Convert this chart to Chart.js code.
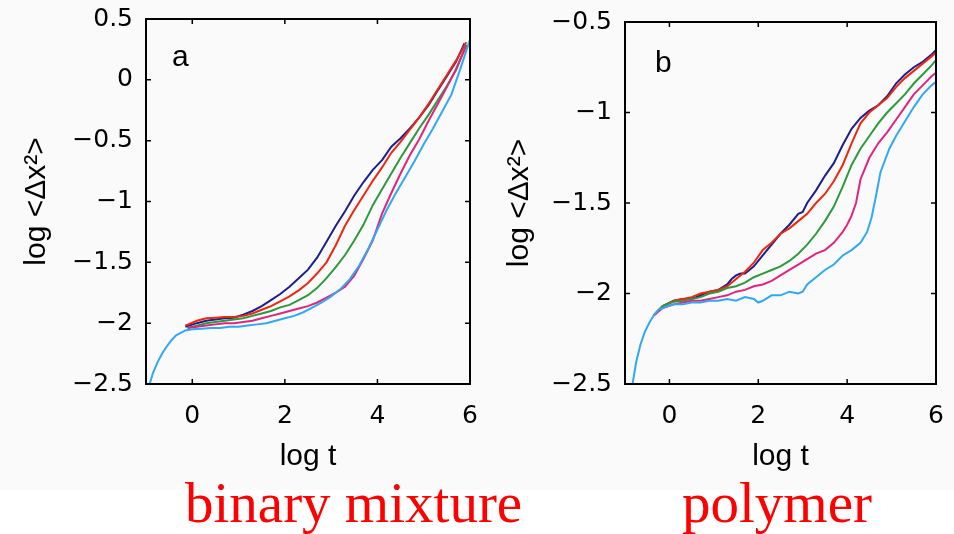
<!DOCTYPE html>
<html lang="en">
<head>
<meta charset="UTF-8">
<title>Mean square displacement: binary mixture vs polymer</title>
<script src="https://cdn.jsdelivr.net/npm/chart.js"></script>
<style>
  body { margin: 0; background: #fff; }
  #page { position: relative; width: 954px; height: 534px; overflow: hidden; background: #fff; }
  #figBg { position: absolute; left: 0; top: 0; width: 954px; height: 490px; background: #fafafa; }
  canvas { position: absolute; top: 0; }
  #chartA { left: 0; }
  #chartB { left: 480px; }
  .caption {
    position: absolute; top: 474px;
    font-family: "Liberation Serif", "Times New Roman", serif;
    font-size: 57px; line-height: 57px; color: #ff0000; white-space: nowrap;
  }
</style>
</head>
<body>
<div id="page">
  <div id="figBg"></div>
  <canvas id="chartA" width="480" height="490"></canvas>
  <canvas id="chartB" width="474" height="490"></canvas>
  <div class="caption" style="left:185px">binary mixture</div>
  <div class="caption" style="left:682px">polymer</div>
</div>

<script>
// tick labels
const xTicks = [0, 2, 4, 6];
const yTicksA = [0.5, 0, -0.5, -1, -1.5, -2, -2.5];
const yTicksB = [-0.5, -1, -1.5, -2, -2.5];

// panel a : binary mixture (log t, log <dx^2>)
const aNavyX = [-0.15, 0.1, 0.3, 0.5, 0.7, 0.9, 1.1, 1.3, 1.5, 1.7, 1.9, 2.1, 2.3, 2.5, 2.7, 2.9, 3.1, 3.3, 3.5, 3.7, 3.9, 4.1, 4.3, 4.5, 4.7, 4.9, 5.1, 5.3, 5.5, 5.7, 5.88];
const aNavyY = [-2.03, -2.0, -1.98, -1.97, -1.96, -1.955, -1.93, -1.9, -1.86, -1.81, -1.76, -1.7, -1.63, -1.56, -1.46, -1.33, -1.2, -1.08, -0.95, -0.84, -0.74, -0.66, -0.55, -0.48, -0.4, -0.31, -0.21, -0.09, 0.03, 0.15, 0.3];
const aRedX = [-0.15, 0.1, 0.3, 0.5, 0.7, 0.9, 1.1, 1.3, 1.5, 1.7, 1.9, 2.1, 2.3, 2.5, 2.7, 2.9, 3.1, 3.3, 3.5, 3.7, 3.9, 4.1, 4.3, 4.5, 4.7, 4.9, 5.1, 5.3, 5.5, 5.7, 5.92];
const aRedY = [-2.02, -1.98, -1.96, -1.955, -1.95, -1.95, -1.94, -1.92, -1.89, -1.86, -1.82, -1.78, -1.73, -1.67, -1.59, -1.5, -1.36, -1.2, -1.07, -0.95, -0.83, -0.72, -0.6, -0.51, -0.41, -0.31, -0.2, -0.08, 0.04, 0.16, 0.31];
const aGreenX = [-0.1, 0.1, 0.3, 0.5, 0.7, 0.9, 1.1, 1.3, 1.5, 1.7, 1.9, 2.1, 2.3, 2.5, 2.7, 2.9, 3.1, 3.3, 3.5, 3.7, 3.9, 4.1, 4.3, 4.5, 4.7, 4.9, 5.1, 5.3, 5.5, 5.7, 5.92];
const aGreenY = [-2.04, -2.02, -2.0, -1.99, -1.98, -1.97, -1.96, -1.94, -1.92, -1.9, -1.87, -1.85, -1.81, -1.77, -1.71, -1.63, -1.54, -1.44, -1.32, -1.19, -1.03, -0.9, -0.77, -0.64, -0.52, -0.4, -0.29, -0.17, -0.05, 0.08, 0.29];
const aMagX = [-0.1, 0.1, 0.3, 0.5, 0.7, 0.9, 1.1, 1.3, 1.5, 1.7, 1.9, 2.1, 2.3, 2.5, 2.7, 2.9, 3.1, 3.3, 3.5, 3.7, 3.9, 4.1, 4.3, 4.5, 4.7, 4.9, 5.1, 5.3, 5.5, 5.7, 5.92];
const aMagY = [-2.04, -2.03, -2.02, -2.01, -2.0, -2.0, -1.99, -1.98, -1.96, -1.94, -1.92, -1.9, -1.88, -1.86, -1.83, -1.79, -1.75, -1.7, -1.61, -1.47, -1.32, -1.1, -0.93, -0.77, -0.62, -0.49, -0.34, -0.2, -0.06, 0.09, 0.28];
const aBlueX = [-0.92, -0.85, -0.75, -0.65, -0.55, -0.45, -0.35, -0.25, -0.15, 0, 0.2, 0.4, 0.6, 0.8, 1.0, 1.2, 1.4, 1.6, 1.8, 2.0, 2.2, 2.4, 2.6, 2.8, 3.0, 3.2, 3.4, 3.6, 3.8, 4.0, 4.2, 4.4, 4.6, 4.8, 5.0, 5.2, 5.4, 5.6, 5.8, 6.0];
const aBlueY = [-2.5, -2.41, -2.32, -2.25, -2.19, -2.14, -2.1, -2.08, -2.06, -2.05, -2.045, -2.04, -2.04, -2.03, -2.03, -2.02, -2.01, -2.0, -1.98, -1.96, -1.94, -1.91, -1.87, -1.83, -1.78, -1.72, -1.64, -1.53, -1.39, -1.23, -1.07, -0.93, -0.8, -0.67, -0.53, -0.4, -0.26, -0.12, 0.1, 0.33];

// panel b : polymer
const bNavyX = [-0.35, -0.15, 0.1, 0.3, 0.5, 0.7, 0.9, 1.1, 1.3, 1.4, 1.5, 1.6, 1.7, 1.8, 1.9, 2.1, 2.3, 2.5, 2.7, 2.9, 3.0, 3.1, 3.3, 3.5, 3.7, 3.9, 4.1, 4.3, 4.5, 4.7, 4.9, 5.1, 5.3, 5.5, 5.7, 5.9, 6.0];
const bNavyY = [-2.12, -2.07, -2.04, -2.03, -2.03, -2.01, -1.99, -1.98, -1.95, -1.92, -1.9, -1.89, -1.89, -1.87, -1.85, -1.79, -1.73, -1.67, -1.62, -1.56, -1.55, -1.5, -1.43, -1.35, -1.28, -1.18, -1.09, -1.03, -0.99, -0.96, -0.91, -0.84, -0.79, -0.75, -0.72, -0.68, -0.655];
const bRedX = [-0.35, -0.15, 0.1, 0.3, 0.5, 0.7, 0.9, 1.1, 1.3, 1.5, 1.7, 1.9, 2.1, 2.3, 2.5, 2.7, 2.9, 3.1, 3.3, 3.5, 3.7, 3.9, 4.1, 4.3, 4.5, 4.7, 4.9, 5.1, 5.3, 5.5, 5.7, 5.9, 6.0];
const bRedY = [-2.12, -2.07, -2.04, -2.03, -2.02, -2.0, -1.99, -1.98, -1.96, -1.92, -1.88, -1.83, -1.76, -1.72, -1.67, -1.64, -1.6, -1.56, -1.5, -1.45, -1.38, -1.29, -1.17, -1.06, -1.0, -0.96, -0.92, -0.86, -0.81, -0.77, -0.73, -0.69, -0.67];
const bGreenX = [-0.35, -0.15, 0.1, 0.3, 0.5, 0.7, 0.9, 1.1, 1.3, 1.5, 1.7, 1.9, 2.1, 2.3, 2.5, 2.7, 2.9, 3.1, 3.3, 3.5, 3.7, 3.9, 4.1, 4.3, 4.5, 4.7, 4.9, 5.1, 5.3, 5.5, 5.7, 5.9, 6.0];
const bGreenY = [-2.12, -2.07, -2.045, -2.04, -2.03, -2.02, -2.0, -1.99, -1.97, -1.96, -1.94, -1.91, -1.89, -1.87, -1.85, -1.82, -1.78, -1.73, -1.67, -1.6, -1.52, -1.41, -1.29, -1.2, -1.13, -1.06, -1.0, -0.95, -0.9, -0.84, -0.79, -0.74, -0.71];
const bMagX = [-0.35, -0.15, 0.1, 0.3, 0.5, 0.7, 0.9, 1.1, 1.3, 1.5, 1.7, 1.9, 2.1, 2.3, 2.5, 2.7, 2.9, 3.1, 3.3, 3.5, 3.7, 3.9, 4.0, 4.1, 4.2, 4.3, 4.5, 4.7, 4.9, 5.1, 5.3, 5.5, 5.7, 5.9, 6.0];
const bMagY = [-2.12, -2.08, -2.06, -2.05, -2.04, -2.04, -2.03, -2.02, -2.01, -1.99, -1.98, -1.96, -1.95, -1.93, -1.9, -1.87, -1.84, -1.81, -1.78, -1.76, -1.72, -1.66, -1.62, -1.57, -1.5, -1.37, -1.25, -1.17, -1.11, -1.04, -0.97, -0.9, -0.85, -0.8, -0.78];
const bBlueX = [-0.83, -0.75, -0.65, -0.55, -0.45, -0.35, -0.25, -0.15, -0.05, 0.1, 0.3, 0.5, 0.7, 0.9, 1.1, 1.3, 1.5, 1.7, 1.9, 2.0, 2.1, 2.3, 2.5, 2.7, 2.9, 3.0, 3.1, 3.3, 3.5, 3.7, 3.9, 4.1, 4.3, 4.45, 4.55, 4.65, 4.75, 4.95, 5.1, 5.3, 5.5, 5.7, 5.9, 6.0];
const bBlueY = [-2.5, -2.38, -2.28, -2.21, -2.16, -2.12, -2.09, -2.08, -2.07, -2.06, -2.06, -2.05, -2.05, -2.04, -2.04, -2.03, -2.04, -2.02, -2.03, -2.05, -2.04, -2.01, -2.01, -1.99, -2.0, -1.99, -1.95, -1.91, -1.87, -1.84, -1.79, -1.76, -1.72, -1.66, -1.58, -1.46, -1.33, -1.2, -1.13, -1.05, -0.97, -0.9, -0.85, -0.83];

const NAVY = '#1e1e8c', RED = '#ee2810', GREEN = '#2c9a3c', PINK = '#e0257c', SKY = '#30a8f4';

Chart.defaults.font.family = '"DejaVu Sans", sans-serif';
Chart.defaults.color = '#000';

function pairs(xs, ys) {
    return xs.map((x, i) => ({ x: x, y: ys[i] }));
}

function fmt(v) {
    return v < 0 ? '\u2212' + Math.abs(v) : String(v);
}

// box round the plot, inward ticks on all four sides, panel letter
const frame = {
    id: 'frame',
    afterDraw(chart, args, o) {
        const { ctx, chartArea: a, scales } = chart;
        ctx.save();
        ctx.strokeStyle = '#000';
        ctx.lineWidth = 2;
        ctx.strokeRect(a.left, a.top, a.right - a.left, a.bottom - a.top);
        ctx.lineWidth = 1.5;
        ctx.beginPath();
        scales.x.ticks.forEach(t => {
            const px = scales.x.getPixelForValue(t.value);
            ctx.moveTo(px, a.bottom); ctx.lineTo(px, a.bottom - 5);
            ctx.moveTo(px, a.top); ctx.lineTo(px, a.top + 5);
        });
        scales.y.ticks.forEach(t => {
            const py = scales.y.getPixelForValue(t.value);
            ctx.moveTo(a.left, py); ctx.lineTo(a.left + 5, py);
            ctx.moveTo(a.right, py); ctx.lineTo(a.right - 5, py);
        });
        ctx.stroke();
        ctx.fillStyle = '#000';
        ctx.font = '30px "Liberation Sans"';
        ctx.textBaseline = 'alphabetic';
        ctx.fillText(o.letter, a.left + o.dx, a.top + o.dy);
        ctx.restore();
    }
};

function makeChart(id, series, yMin, yMax, yTicks, p) {
    return new Chart(document.getElementById(id), {
        type: 'scatter',
        data: {
            datasets: series.map(s => ({
                data: s.data,
                borderColor: s.color,
                backgroundColor: s.color,
                borderWidth: 2,
                pointRadius: 0,
                showLine: true,
                fill: false
            }))
        },
        options: {
            responsive: false,
            animation: false,
            events: [],
            layout: { padding: { top: p.top, right: p.right, left: 0, bottom: 0 } },
            plugins: {
                legend: { display: false },
                tooltip: { enabled: false },
                frame: { letter: p.letter, dx: p.dx, dy: p.dy }
            },
            scales: {
                x: {
                    type: 'linear', min: -1, max: 6,
                    afterBuildTicks: s => { s.ticks = xTicks.map(v => ({ value: v })); },
                    afterFit: s => { s.height = p.bottomH; s.paddingLeft = 0; s.paddingRight = 0; },
                    ticks: { padding: 17, font: { size: 25 }, callback: v => fmt(v) },
                    grid: { display: false, drawTicks: false },
                    border: { display: false },
                    title: {
                        display: true, text: 'log t',
                        font: { family: '"Liberation Sans"', size: 30 },
                        padding: { top: 0, bottom: 15 }
                    }
                },
                y: {
                    type: 'linear', min: yMin, max: yMax,
                    afterBuildTicks: s => { s.ticks = yTicks.map(v => ({ value: v })); },
                    afterFit: s => { s.width = p.leftW; s.paddingTop = 0; s.paddingBottom = 0; },
                    ticks: { padding: 13, font: { size: 25 }, callback: v => fmt(v) },
                    grid: { display: false, drawTicks: false },
                    border: { display: false },
                    title: {
                        display: true, text: 'log <\u0394x\u00b2>',
                        font: { family: '"Liberation Sans"', size: 30 },
                        padding: { top: p.titleTop, bottom: 0 }
                    }
                }
            }
        },
        plugins: [frame]
    });
}

makeChart('chartA', [
    { data: pairs(aBlueX, aBlueY), color: SKY },
    { data: pairs(aMagX, aMagY), color: PINK },
    { data: pairs(aGreenX, aGreenY), color: GREEN },
    { data: pairs(aRedX, aRedY), color: RED },
    { data: pairs(aNavyX, aNavyY), color: NAVY }
], -2.5, 0.5, yTicksA, { top: 19, right: 10, leftW: 146, bottomH: 106, titleTop: 19, letter: 'a', dx: 26, dy: 47 });

makeChart('chartB', [
    { data: pairs(bBlueX, bBlueY), color: SKY },
    { data: pairs(bMagX, bMagY), color: PINK },
    { data: pairs(bGreenX, bGreenY), color: GREEN },
    { data: pairs(bRedX, bRedY), color: RED },
    { data: pairs(bNavyX, bNavyY), color: NAVY }
], -2.5, -0.5, yTicksB, { top: 22, right: 18, leftW: 145, bottomH: 106, titleTop: 22, letter: 'b', dx: 30, dy: 50 });
</script>
</body>
</html>
